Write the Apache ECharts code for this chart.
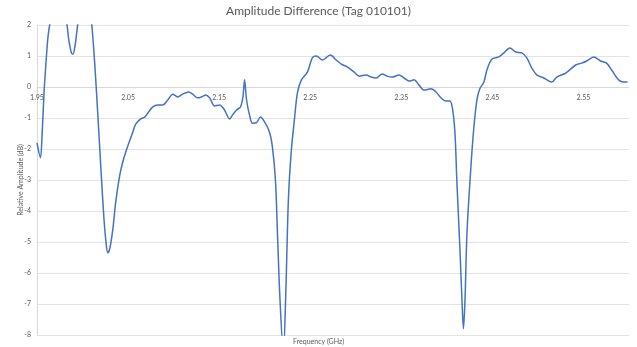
<!DOCTYPE html>
<html>
<head>
<meta charset="utf-8">
<script src="https://cdn.jsdelivr.net/npm/echarts@6/dist/echarts.min.js"></script>
<style>html,body{margin:0;padding:0;background:#fff}#c{width:637px;height:347px}</style>
</head>
<body>
<div id="c"></div>
<script>
const chartTitle = 'Amplitude Difference (Tag 010101)';
const xTitle = 'Frequency (GHz)';
const yTitle = 'Relative Amplitude (dB)';
const freq = [1.950,1.9538,1.9555,1.9577,1.9599,1.9620,1.9642,1.9686,1.9730,1.9774,1.9818,1.9850,1.9878,1.9894,1.9916,1.9938,1.9960,1.9993,2.0037,2.0080,2.0102,2.0135,2.0168,2.0201,2.0234,2.0261,2.0278,2.0300,2.0332,2.0365,2.0409,2.0453,2.0497,2.0541,2.0584,2.0639,2.0683,2.0727,2.0771,2.0825,2.0880,2.0935,2.0990,2.1044,2.1099,2.1165,2.1209,2.1263,2.1307,2.1351,2.1395,2.1450,2.1504,2.1559,2.1614,2.1647,2.1691,2.1735,2.1762,2.1779,2.1801,2.1833,2.1866,2.1910,2.1953,2.1997,2.2052,2.2085,2.2118,2.2140,2.2167,2.2205,2.2233,2.2260,2.2293,2.2326,2.2359,2.2403,2.2469,2.2523,2.2567,2.2633,2.2720,2.2786,2.2841,2.2906,2.2983,2.3038,2.3114,2.3169,2.3224,2.3290,2.3344,2.3399,2.3476,2.3531,2.3585,2.3640,2.3695,2.3750,2.3826,2.3881,2.3936,2.3991,2.4034,2.4062,2.4089,2.4111,2.4144,2.4166,2.4182,2.4199,2.4221,2.4264,2.4297,2.4330,2.4363,2.4407,2.4440,2.4495,2.4571,2.4626,2.4692,2.4757,2.4823,2.4878,2.4933,2.4987,2.5064,2.5152,2.5207,2.5305,2.5415,2.5480,2.5535,2.5612,2.5688,2.5754,2.5809,2.5886,2.5941,2.5984];
const amp = [-1.8,-2.28,-1.6,-0.2,0.8,1.6,2.05,2.6,2.7,2.4,2.2,1.5,1.1,1.06,1.3,1.8,2.3,2.8,2.9,2.4,2.0,0.7,-0.9,-2.6,-4.2,-5.1,-5.35,-5.2,-4.6,-3.7,-2.84,-2.3,-1.9,-1.55,-1.2,-1.03,-0.97,-0.8,-0.64,-0.58,-0.58,-0.42,-0.23,-0.32,-0.23,-0.16,-0.23,-0.35,-0.32,-0.26,-0.35,-0.61,-0.58,-0.74,-1.03,-0.9,-0.74,-0.64,-0.3,0.23,-0.42,-0.9,-1.17,-1.15,-0.97,-1.12,-1.45,-1.94,-3.0,-4.7,-6.8,-8.6,-6.5,-3.65,-2.03,-1.06,-0.2,0.23,0.48,0.94,1.0,0.87,1.03,0.87,0.74,0.65,0.48,0.35,0.39,0.32,0.29,0.42,0.35,0.32,0.39,0.29,0.19,0.23,0.06,-0.1,-0.06,-0.16,-0.35,-0.45,-0.45,-0.7,-1.48,-3.1,-5.26,-6.87,-7.8,-6.9,-4.7,-2.58,-1.29,-0.42,-0.05,0.16,0.55,0.9,0.97,1.1,1.26,1.13,1.1,0.94,0.61,0.39,0.29,0.16,0.32,0.45,0.71,0.77,0.84,0.97,0.84,0.77,0.55,0.23,0.16,0.16];
const data = freq.map((f, i) => [f, amp[i]]);
const font = 'Lato, "Open Sans", sans-serif';
const grey = '#595959';
const yMin = -8, yMax = 2, gridTop = 25, gridBottom = 12, chartH = 347;
const plotH = chartH - gridTop - gridBottom;
const zeroOffset = -plotH * (0 - yMin) / (yMax - yMin);
const chart = echarts.init(document.getElementById('c'), null, {renderer: 'canvas'});
chart.setOption({
  animation: false,
  title: [
    {text: chartTitle, left: 'center', top: 0, textStyle: {fontSize: 12, fontWeight: 'normal', color: grey, fontFamily: font}},
    {text: xTitle, left: 'center', top: 333, textStyle: {fontSize: 7, fontWeight: 'normal', color: grey, fontFamily: font}}
  ],
  grid: {left: 37, right: 8, top: gridTop, bottom: gridBottom, containLabel: false},
  xAxis: {
    type: 'value', min: 1.95, max: 2.6, interval: 0.05,
    position: 'bottom', offset: zeroOffset,
    axisLine: {onZero: false, lineStyle: {color: '#d9d9d9'}},
    axisTick: {show: false},
    splitLine: {show: false},
    axisLabel: {
      color: grey, fontSize: 7, fontFamily: font, margin: 7,
      formatter: v => (Math.round(v * 100) % 10 === 5 ? v.toFixed(2) : '')
    }
  },
  yAxis: {
    type: 'value', min: yMin, max: yMax, interval: 1,
    name: yTitle, nameLocation: 'middle', nameGap: 13, nameMoveOverlap: false,
    nameTextStyle: {fontSize: 7, color: grey, fontFamily: font},
    axisLine: {show: true, onZero: false, lineStyle: {color: '#d9d9d9'}},
    axisTick: {show: false},
    splitLine: {lineStyle: {color: '#e3e3e3'}},
    axisLabel: {color: grey, fontSize: 7, fontFamily: font, margin: 6}
  },
  series: [{
    type: 'line', data: data, smooth: 0.3, showSymbol: false, clip: true,
    lineStyle: {color: '#4472C4', width: 1.5}
  }]
});
</script>
</body>
</html>
